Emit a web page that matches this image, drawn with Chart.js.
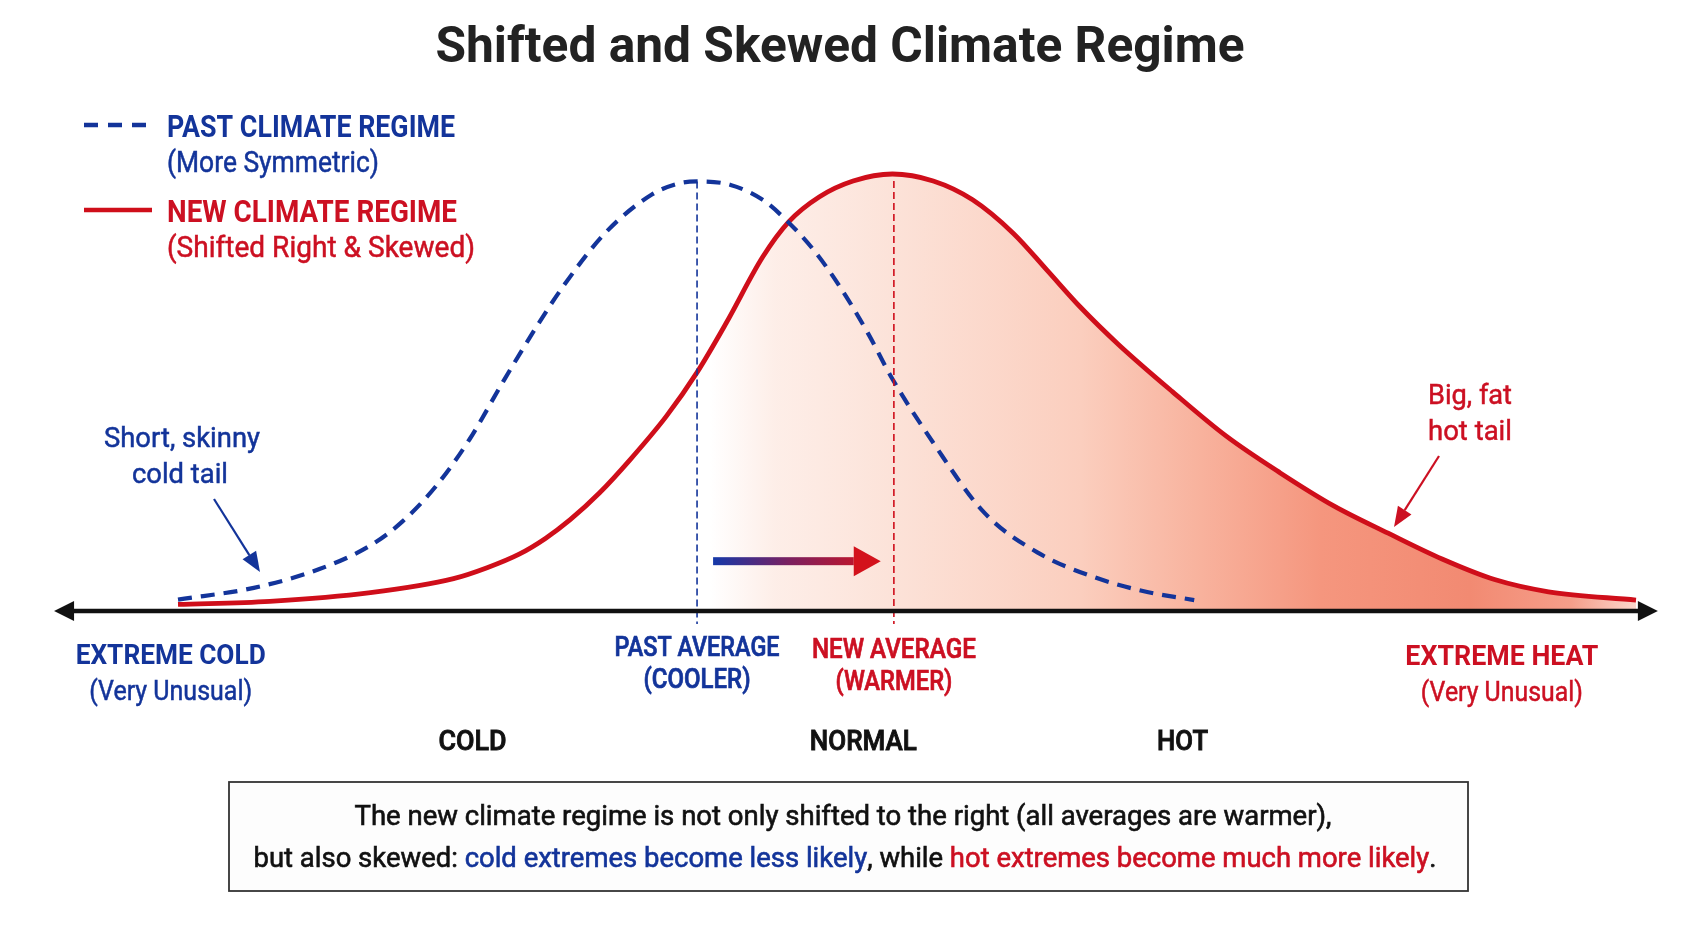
<!DOCTYPE html>
<html>
<head>
<meta charset="utf-8">
<script src="https://cdn.jsdelivr.net/npm/chart.js@4.4.1/dist/chart.umd.min.js"></script>
<style>
  html, body { margin: 0; padding: 0; background: #ffffff; }
  #wrap { width: 1693px; height: 929px; }
</style>
</head>
<body>
<div id="wrap"><canvas id="c" width="1693" height="929"></canvas></div>
<script>
// ---- data (temperature index 0..100, relative likelihood 0..100) ----
const pastX = [0, 5.2, 9.7, 13.2, 15.4, 17.7, 20.0, 22.3, 24.6, 26.4, 29.3, 32.5, 34.4, 35.6, 37.9, 40.1, 41.7, 43.6, 45.4, 47.3, 49.0, 51.8, 55.3, 59.0, 62.7, 66.4, 69.7];
const pastY = [2.6, 5.3, 9.6, 15.0, 20.5, 28.6, 39.3, 52.5, 65.1, 74.2, 86.5, 95.3, 97.9, 98.3, 97.5, 94.1, 89.5, 82.6, 74.2, 63.7, 53.1, 38.5, 22.5, 13.3, 7.9, 4.4, 2.5];
const newX = [0, 6.3, 13.2, 18.9, 21.2, 23.4, 25.2, 26.9, 28.9, 31.0, 33.5, 35.6, 37.6, 40.1, 41.9, 44.0, 46.3, 49.0, 51.8, 54.5, 57.3, 59.6, 61.9, 64.5, 68.2, 71.9, 75.6, 79.3, 83.0, 86.7, 90.3, 94.0, 100];
const newY = [1.5, 2.2, 4.2, 7.4, 9.9, 13.0, 16.6, 20.9, 27.0, 34.6, 44.6, 54.6, 65.9, 81.0, 89.1, 94.8, 98.4, 100, 98.4, 94.1, 86.4, 78.0, 69.5, 61.0, 50.2, 40.0, 31.6, 24.0, 17.8, 11.9, 7.2, 4.4, 2.5];
const pastAverage = 35.6;
const newAverage = 49.1;
const zoneLabels = ['COLD', 'NORMAL', 'HOT'];
const zoneX = [20.2, 47.0, 68.9];
const extremeColdX = -0.5;
const extremeHeatX = 90.8;
const axisRange = [-8.5, 101.5];

const BLUE = '#13349a';
const RED = '#cf0e1a';
const RED_TXT = '#cc1022';
const FONT = 'Roboto, "Liberation Sans", sans-serif';

function fitText(ctx, str, x, y, font, color, width, align, stroke) {
  ctx.save();
  ctx.font = font;
  ctx.fillStyle = color;
  ctx.strokeStyle = color;
  ctx.textBaseline = 'middle';
  ctx.textAlign = align || 'center';
  const w = ctx.measureText(str).width;
  let s = width ? width / w : 1;
  s = Math.max(0.7, Math.min(1.15, s));
  ctx.translate(x, y + 3);
  ctx.scale(s, 1);
  ctx.fillText(str, 0, 0);
  if (stroke) { ctx.lineWidth = stroke; ctx.strokeText(str, 0, 0); }
  ctx.restore();
}

function arrowLine(ctx, x1, y1, x2, y2, color, lw, headLen, headW) {
  const ang = Math.atan2(y2 - y1, x2 - x1);
  ctx.save();
  ctx.strokeStyle = color; ctx.fillStyle = color; ctx.lineWidth = lw;
  const bx = x2 - Math.cos(ang) * headLen, by = y2 - Math.sin(ang) * headLen;
  ctx.beginPath(); ctx.moveTo(x1, y1); ctx.lineTo(bx, by); ctx.stroke();
  ctx.beginPath();
  ctx.moveTo(x2, y2);
  ctx.lineTo(bx + Math.sin(ang) * headW, by - Math.cos(ang) * headW);
  ctx.lineTo(bx - Math.sin(ang) * headW, by + Math.cos(ang) * headW);
  ctx.closePath(); ctx.fill();
  ctx.restore();
}

const decor = {
  id: 'decor',
  beforeDraw(chart) {
    const ctx = chart.ctx;
    ctx.save();
    ctx.fillStyle = '#ffffff';
    ctx.fillRect(0, 0, chart.width, chart.height);
    ctx.restore();
  },
  afterDatasetsDraw(chart) {
    const ctx = chart.ctx;
    const xs = chart.scales.x, ys = chart.scales.y;
    const y0 = ys.getPixelForValue(0);

    // average lines
    const pastPeak = Math.max.apply(null, pastY);
    const newPeak = Math.max.apply(null, newY);
    ctx.save();
    ctx.lineWidth = 1.6;
    ctx.setLineDash([7, 4]);
    ctx.strokeStyle = BLUE;
    const px = xs.getPixelForValue(pastAverage);
    ctx.beginPath(); ctx.moveTo(px, ys.getPixelForValue(pastPeak)); ctx.lineTo(px, y0 + 13); ctx.stroke();
    ctx.strokeStyle = RED;
    const nx = xs.getPixelForValue(newAverage);
    ctx.beginPath(); ctx.moveTo(nx, ys.getPixelForValue(newPeak) + 7); ctx.lineTo(nx, y0 + 13); ctx.stroke();
    ctx.restore();

    // shift arrow (blue -> red)
    const ax1 = xs.getPixelForValue(pastAverage + 1.1);
    const ax2 = xs.getPixelForValue(newAverage - 0.9);
    const ay = ys.getPixelForValue(11.4);
    const g = ctx.createLinearGradient(ax1, 0, ax2, 0);
    g.addColorStop(0, '#1538a8');
    g.addColorStop(0.45, '#7a2060');
    g.addColorStop(1, '#d3121c');
    ctx.save();
    ctx.fillStyle = g;
    ctx.fillRect(ax1, ay - 4, (ax2 - 27) - ax1, 8);
    ctx.fillStyle = '#d3121c';
    ctx.beginPath();
    ctx.moveTo(ax2, ay);
    ctx.lineTo(ax2 - 27, ay - 15);
    ctx.lineTo(ax2 - 27, ay + 15);
    ctx.closePath(); ctx.fill();
    ctx.restore();

    // horizontal axis with arrows
    const xl = xs.getPixelForValue(axisRange[0]);
    const xr = xs.getPixelForValue(axisRange[1]);
    ctx.save();
    ctx.strokeStyle = '#111'; ctx.fillStyle = '#111'; ctx.lineWidth = 4.5;
    ctx.beginPath(); ctx.moveTo(xl + 14, y0); ctx.lineTo(xr - 14, y0); ctx.stroke();
    ctx.beginPath(); ctx.moveTo(xl, y0); ctx.lineTo(xl + 20, y0 - 10); ctx.lineTo(xl + 20, y0 + 10); ctx.closePath(); ctx.fill();
    ctx.beginPath(); ctx.moveTo(xr, y0); ctx.lineTo(xr - 20, y0 - 10); ctx.lineTo(xr - 20, y0 + 10); ctx.closePath(); ctx.fill();
    ctx.restore();

    // title
    fitText(ctx, 'Shifted and Skewed Climate Regime', 840, 46, 'bold 50px ' + FONT, '#222222', 809);

    // legend
    ctx.save();
    ctx.lineWidth = 4.5;
    ctx.strokeStyle = BLUE; ctx.setLineDash([14, 10]);
    ctx.beginPath(); ctx.moveTo(84, 125); ctx.lineTo(152, 125); ctx.stroke();
    ctx.setLineDash([]);
    ctx.strokeStyle = RED;
    ctx.beginPath(); ctx.moveTo(84, 210); ctx.lineTo(152, 210); ctx.stroke();
    ctx.restore();
    fitText(ctx, 'PAST CLIMATE REGIME', 167, 126, 'bold 31px ' + FONT, BLUE, 288, 'left');
    fitText(ctx, '(More Symmetric)', 167, 162, '29px ' + FONT, BLUE, 212, 'left', 0.5);
    fitText(ctx, 'NEW CLIMATE REGIME', 167, 211, 'bold 31px ' + FONT, RED_TXT, 290, 'left');
    fitText(ctx, '(Shifted Right & Skewed)', 167, 247, '29px ' + FONT, RED_TXT, 308, 'left', 0.5);

    // tail notes
    fitText(ctx, 'Short, skinny', 182, 437, '28px ' + FONT, BLUE, 156, 'center', 0.5);
    fitText(ctx, 'cold tail', 180, 473, '28px ' + FONT, BLUE, 96, 'center', 0.5);
    arrowLine(ctx, 214, 499, 260, 572, BLUE, 2.2, 20, 8);
    fitText(ctx, 'Big, fat', 1470, 394, '28px ' + FONT, RED_TXT, 84, 'center', 0.5);
    fitText(ctx, 'hot tail', 1470, 430, '28px ' + FONT, RED_TXT, 84, 'center', 0.5);
    arrowLine(ctx, 1439, 456, 1394, 527, RED_TXT, 2.2, 20, 8);

    // axis labels
    const ec = xs.getPixelForValue(extremeColdX);
    fitText(ctx, 'EXTREME COLD', ec, 654, 'bold 28px ' + FONT, BLUE, 190);
    fitText(ctx, '(Very Unusual)', ec, 690, '27px ' + FONT, BLUE, 163, 'center', 0.5);
    const eh = xs.getPixelForValue(extremeHeatX);
    fitText(ctx, 'EXTREME HEAT', eh, 655, 'bold 28px ' + FONT, RED_TXT, 193);
    fitText(ctx, '(Very Unusual)', eh, 691, '27px ' + FONT, RED_TXT, 162, 'center', 0.5);
    fitText(ctx, 'PAST AVERAGE', px, 646, '500 27px ' + FONT, BLUE, 165, 'center', 0.7);
    fitText(ctx, '(COOLER)', px, 678, '500 27px ' + FONT, BLUE, 107, 'center', 0.7);
    fitText(ctx, 'NEW AVERAGE', nx, 648, '500 27px ' + FONT, RED_TXT, 164, 'center', 0.7);
    fitText(ctx, '(WARMER)', nx, 680, '500 27px ' + FONT, RED_TXT, 117, 'center', 0.7);
    const zw = [68, 107, 51];
    zoneLabels.forEach((t, i) => {
      fitText(ctx, t, xs.getPixelForValue(zoneX[i]), 740, '500 28px ' + FONT, '#111111', zw[i], 'center', 0.9);
    });

    // explanatory box
    ctx.save();
    ctx.fillStyle = '#fdfdfd';
    ctx.fillRect(229, 782, 1239, 109);
    ctx.strokeStyle = '#333'; ctx.lineWidth = 1.8;
    ctx.strokeRect(229, 782, 1239, 109);
    ctx.restore();
    fitText(ctx, 'The new climate regime is not only shifted to the right (all averages are warmer),', 843, 815, '27px ' + FONT, '#111111', 977, 'center', 0.6);
    const segs = [
      ['but also skewed: ', '#111111'],
      ['cold extremes become less likely', BLUE],
      [', while ', '#111111'],
      ['hot extremes become much more likely', RED_TXT],
      ['.', '#111111']
    ];
    ctx.save();
    ctx.font = '27px ' + FONT;
    const total = segs.reduce((a, s) => a + ctx.measureText(s[0]).width, 0);
    const sc = 1183 / total;
    ctx.translate(845 - 1183 / 2, 860);
    ctx.scale(sc, 1);
    ctx.textBaseline = 'middle'; ctx.textAlign = 'left';
    ctx.lineWidth = 0.6;
    let cx = 0;
    segs.forEach(s => {
      ctx.fillStyle = s[1]; ctx.strokeStyle = s[1];
      ctx.fillText(s[0], cx, 0); ctx.strokeText(s[0], cx, 0);
      cx += ctx.measureText(s[0]).width;
    });
    ctx.restore();
  }
};

function fillGradient(c) {
  const chart = c.chart;
  const area = chart.chartArea;
  if (!area) return 'rgba(0,0,0,0)';
  const xs = chart.scales.x;
  const a = xs.getPixelForValue(36.5), b = xs.getPixelForValue(100);
  const g = chart.ctx.createLinearGradient(a, 0, b, 0);
  g.addColorStop(0.0, 'rgba(253,232,224,0)');
  g.addColorStop(0.07, 'rgba(253,232,224,0.75)');
  g.addColorStop(0.2, 'rgba(252,226,216,1)');
  g.addColorStop(0.4, 'rgba(251,206,190,1)');
  g.addColorStop(0.53, 'rgba(248,178,157,1)');
  g.addColorStop(0.66, 'rgba(245,150,126,1)');
  g.addColorStop(0.82, 'rgba(242,138,114,1)');
  g.addColorStop(0.93, 'rgba(245,158,138,1)');
  g.addColorStop(1.0, 'rgba(251,214,204,1)');
  return g;
}

new Chart(document.getElementById('c'), {
  type: 'line',
  data: {
    datasets: [
      {
        label: 'Past Climate Regime',
        data: pastX.map((x, i) => ({ x: x, y: pastY[i] })),
        borderColor: BLUE,
        borderWidth: 4.2,
        borderDash: [14, 9],
        pointRadius: 0,
        fill: false,
        cubicInterpolationMode: 'monotone',
        clip: false
      },
      {
        label: 'New Climate Regime',
        data: newX.map((x, i) => ({ x: x, y: newY[i] })),
        borderColor: RED,
        borderWidth: 4.8,
        pointRadius: 0,
        fill: 'origin',
        backgroundColor: fillGradient,
        cubicInterpolationMode: 'monotone',
        clip: false
      }
    ]
  },
  options: {
    responsive: false,
    animation: false,
    devicePixelRatio: 1,
    layout: { padding: { left: 178, right: 57, top: 174, bottom: 318 } },
    scales: {
      x: { type: 'linear', min: 0, max: 100, display: false },
      y: { type: 'linear', min: 0, max: 100, display: false }
    },
    plugins: {
      legend: { display: false },
      tooltip: { enabled: false },
      title: { display: false }
    }
  },
  plugins: [decor]
});
</script>
</body>
</html>
